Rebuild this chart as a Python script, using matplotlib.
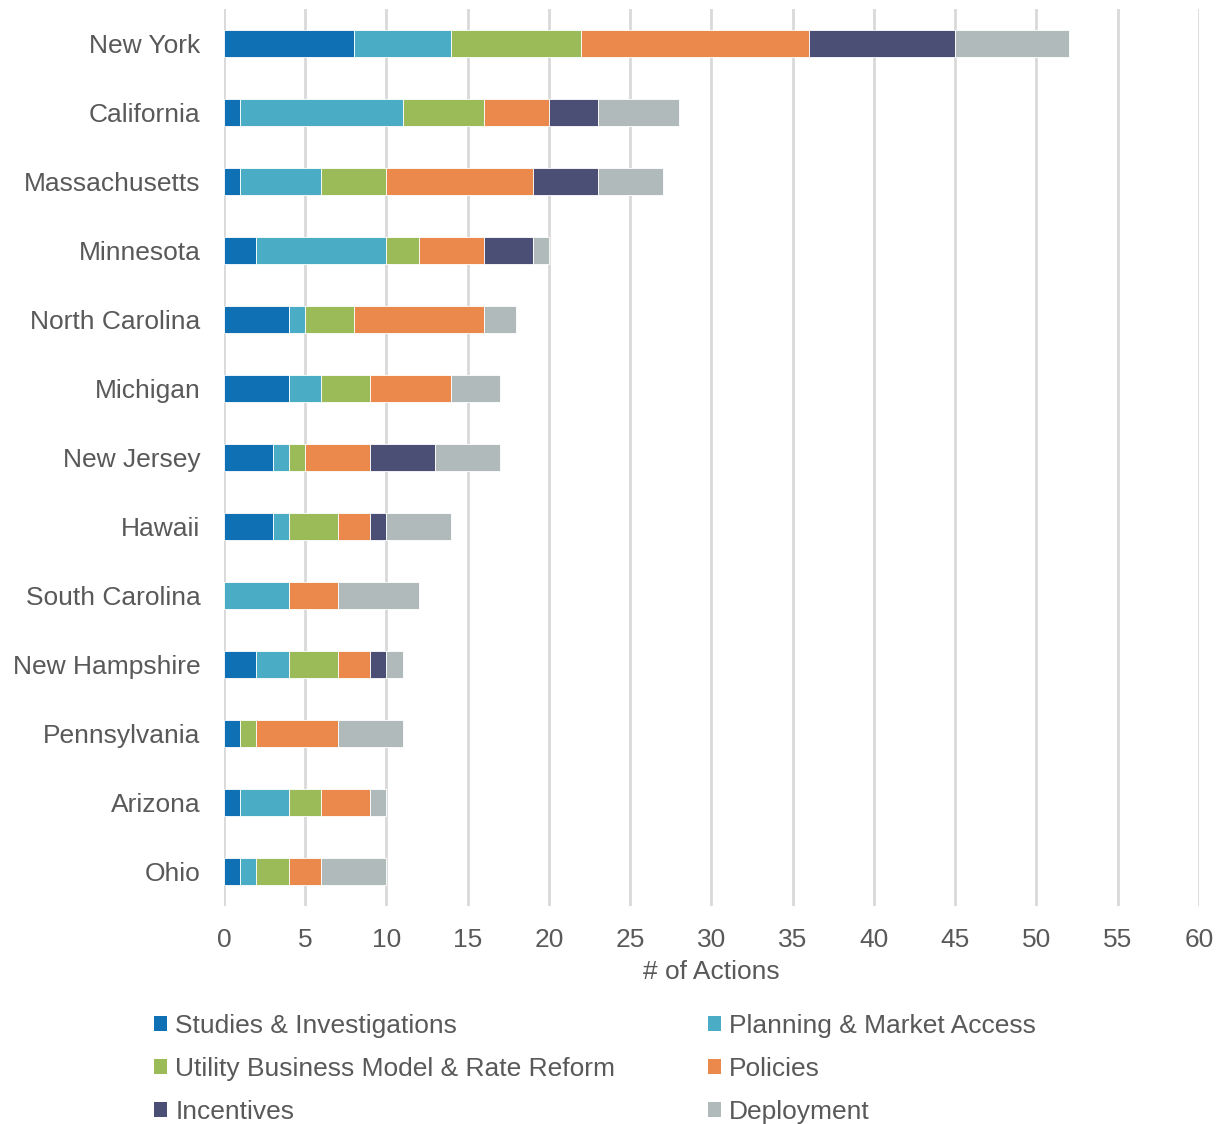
import numpy as np
import matplotlib.pyplot as plt
from matplotlib.patches import Patch

plt.rcParams['font.family'] = ['Liberation Sans', 'DejaVu Sans']

states = ['New York', 'California', 'Massachusetts', 'Minnesota', 'North Carolina',
          'Michigan', 'New Jersey', 'Hawaii', 'South Carolina', 'New Hampshire',
          'Pennsylvania', 'Arizona', 'Ohio']

studies = [8, 1, 1, 2, 4, 4, 3, 3, 0, 2, 1, 1, 1]
planning = [6, 10, 5, 8, 1, 2, 1, 1, 4, 2, 0, 3, 1]
utility = [8, 5, 4, 2, 3, 3, 1, 3, 0, 3, 1, 2, 2]
policies = [14, 4, 9, 4, 8, 5, 4, 2, 3, 2, 5, 3, 2]
incentives = [9, 3, 4, 3, 0, 0, 4, 1, 0, 1, 0, 0, 0]
deployment = [7, 5, 4, 1, 2, 3, 4, 4, 5, 1, 4, 1, 4]

series = [
    ('Studies & Investigations', studies, '#1070B4'),
    ('Planning & Market Access', planning, '#4BACC6'),
    ('Utility Business Model & Rate Reform', utility, '#9BBB59'),
    ('Policies', policies, '#EB884C'),
    ('Incentives', incentives, '#4B4E75'),
    ('Deployment', deployment, '#B0BABA'),
]

text_col = '#595959'

fig = plt.figure(figsize=(12.18, 11.24), dpi=100)
ax = fig.add_axes([0.1839, 0.194, 0.8005, 0.798])

y = np.arange(len(states))
left = np.zeros(len(states))
for name, vals, col in series:
    vals = np.array(vals, dtype=float)
    ax.barh(y, vals, left=left, height=0.4, color=col, edgecolor='white',
            linewidth=0.6, zorder=3)
    left += vals

ax.set_ylim(len(states) - 0.5, -0.5)
ax.set_yticks(y)
ax.set_yticklabels(states)
ax.set_xlim(0, 60)
ax.set_xticks(np.arange(0, 61, 5))

ax.grid(axis='x', color='#D9D9D9', linewidth=2, zorder=0)
for s in ax.spines.values():
    s.set_visible(False)
ax.tick_params(axis='both', length=0, labelsize=19, labelcolor=text_col)
ax.tick_params(axis='y', pad=17)
ax.tick_params(axis='x', pad=16)
ax.set_xlabel('# of Actions', fontsize=19, color=text_col, labelpad=6)

handles = [Patch(facecolor=col, edgecolor='none') for _, _, col in series]
labels = [name for name, _, _ in series]
# legend reads row by row: reorder for column-major filling
order = [0, 2, 4, 1, 3, 5]
fig.legend([handles[i] for i in order], [labels[i] for i in order],
           ncol=2, loc='upper left', bbox_to_anchor=(0.118, 0.107),
           frameon=False, fontsize=19, labelcolor=text_col,
           handlelength=0.5, handleheight=0.5, handletextpad=0.3,
           columnspacing=3.5, labelspacing=0.72, borderaxespad=0)

fig.savefig('out.png', dpi=100)
